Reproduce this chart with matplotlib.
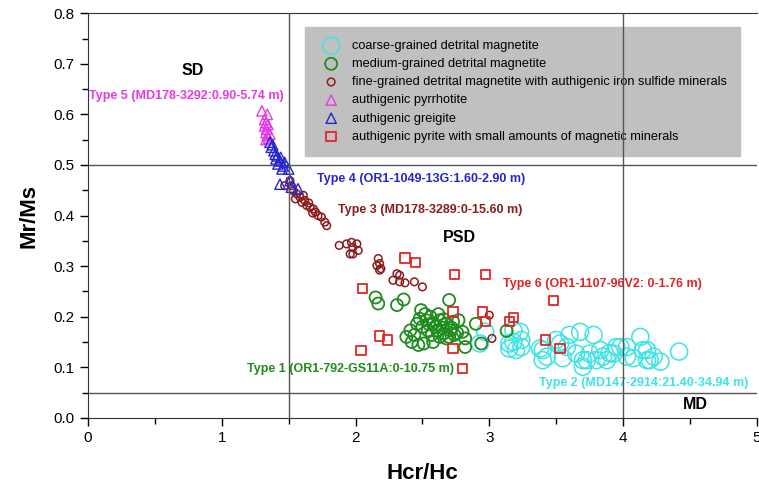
import numpy as np
import matplotlib
matplotlib.use("Agg")
import matplotlib.pyplot as plt

plt.rcParams['font.family'] = ['Liberation Sans', 'DejaVu Sans']

# coarse-grained detrital magnetite (Type 2)
coarse_x = [2.97, 2.93, 3.15, 3.18, 3.18, 3.23, 3.15, 3.20, 3.24, 3.24, 3.38, 3.40, 3.40, 3.43,
            3.50, 3.53, 3.55, 3.60, 3.68, 3.78, 3.65, 3.70, 3.70, 3.73, 3.75, 3.80, 3.83, 3.85,
            3.88, 3.93, 3.95, 3.98, 4.03, 4.03, 4.08, 4.13, 4.15, 4.18, 4.18, 4.20, 4.23, 4.28,
            4.42, 3.58, 3.90]
coarse_y = [0.170, 0.147, 0.147, 0.173, 0.150, 0.170, 0.137, 0.134, 0.140, 0.154, 0.137, 0.134,
            0.114, 0.121, 0.154, 0.147, 0.118, 0.164, 0.170, 0.164, 0.127, 0.114, 0.101, 0.114,
            0.127, 0.114, 0.134, 0.121, 0.114, 0.127, 0.140, 0.140, 0.121, 0.140, 0.118, 0.160,
            0.134, 0.134, 0.114, 0.114, 0.121, 0.111, 0.131, 0.140, 0.128]

# medium-grained detrital magnetite (Type 1)
medium_x = [2.15, 2.17, 2.31, 2.36, 2.70, 2.49, 2.48, 2.53, 2.58, 2.63, 2.68, 2.73, 2.77, 2.46,
            2.41, 2.38, 2.44, 2.47, 2.51, 2.54, 2.57, 2.61, 2.63, 2.66, 2.71, 2.68, 2.74, 2.80,
            2.82, 2.82, 2.90, 2.94, 3.13, 2.52, 2.56, 2.60, 2.65, 2.50, 2.70, 2.58, 2.42, 2.55,
            2.62, 2.66, 2.72, 2.76]
medium_y = [0.238, 0.226, 0.223, 0.234, 0.233, 0.213, 0.196, 0.193, 0.186, 0.193, 0.186, 0.190,
            0.193, 0.186, 0.173, 0.160, 0.164, 0.144, 0.147, 0.173, 0.164, 0.173, 0.160, 0.167,
            0.173, 0.157, 0.164, 0.170, 0.157, 0.140, 0.186, 0.147, 0.172, 0.205, 0.200, 0.180,
            0.178, 0.180, 0.160, 0.150, 0.150, 0.185, 0.205, 0.195, 0.178, 0.168]

# fine-grained detrital magnetite with authigenic iron sulfides (Type 3)
fine_x = [1.47, 1.51, 1.52, 1.535, 1.56, 1.55, 1.585, 1.60, 1.62, 1.635, 1.66, 1.685, 1.70, 1.72,
          1.745, 1.77, 1.785, 1.61, 1.65, 1.68, 1.878, 1.933, 1.97, 2.01, 1.98, 1.98, 2.02, 1.96,
          2.17, 2.18, 2.16, 2.19, 2.18, 2.31, 2.33, 2.28, 2.33, 2.37, 2.44, 2.50, 3.00, 3.02]
fine_y = [0.459, 0.469, 0.459, 0.449, 0.443, 0.433, 0.436, 0.426, 0.430, 0.420, 0.416, 0.413,
          0.407, 0.400, 0.397, 0.387, 0.380, 0.440, 0.425, 0.405, 0.341, 0.344, 0.347, 0.344,
          0.337, 0.324, 0.331, 0.324, 0.315, 0.305, 0.301, 0.295, 0.292, 0.285, 0.282, 0.272,
          0.269, 0.267, 0.269, 0.259, 0.203, 0.157]

# authigenic pyrrhotite (Type 5)
pyrr_x = [1.30, 1.34, 1.32, 1.33, 1.32, 1.335, 1.33, 1.34, 1.35, 1.36, 1.345, 1.33]
pyrr_y = [0.607, 0.600, 0.590, 0.584, 0.577, 0.571, 0.564, 0.558, 0.553, 0.561, 0.580, 0.550]

# authigenic greigite (Type 4)
greig_x = [1.36, 1.37, 1.39, 1.40, 1.415, 1.405, 1.435, 1.42, 1.46, 1.45, 1.50, 1.47, 1.435,
           1.51, 1.57, 1.52, 1.38, 1.44]
greig_y = [0.545, 0.535, 0.528, 0.521, 0.518, 0.512, 0.508, 0.502, 0.498, 0.492, 0.492, 0.505,
           0.462, 0.469, 0.453, 0.456, 0.540, 0.515]

# authigenic pyrite (Type 6)
pyrite_x = [2.05, 2.37, 2.45, 2.74, 2.97, 2.73, 2.95, 2.97, 3.15, 3.18, 2.18, 2.24, 2.04, 2.73,
            2.80, 3.42, 3.48, 3.53]
pyrite_y = [0.256, 0.316, 0.307, 0.283, 0.283, 0.209, 0.209, 0.190, 0.190, 0.198, 0.162, 0.154,
            0.133, 0.137, 0.098, 0.154, 0.232, 0.137]

labels = ["coarse-grained detrital magnetite",
          "medium-grained detrital magnetite",
          "fine-grained detrital magnetite with authigenic iron sulfide minerals",
          "authigenic pyrrhotite",
          "authigenic greigite",
          "authigenic pyrite with small amounts of magnetic minerals"]

c_cyan = "#3ee4e4"
c_green = "#1f8c1f"
c_brown = "#8c1c1c"
c_mag = "#e53be5"
c_blue = "#2525d0"
c_red = "#e42424"

fig = plt.figure(figsize=(7.59, 4.91), dpi=100)
ax = fig.add_axes([0.116, 0.149, 0.881, 0.824])

ax.scatter(coarse_x, coarse_y, s=150, marker='o', facecolors='none', edgecolors=c_cyan,
           linewidths=1.1, label=labels[0], zorder=3)
ax.scatter(medium_x, medium_y, s=75, marker='o', facecolors='none', edgecolors=c_green,
           linewidths=1.3, label=labels[1], zorder=3)
ax.scatter(fine_x, fine_y, s=30, marker='o', facecolors='none', edgecolors=c_brown,
           linewidths=1.1, label=labels[2], zorder=3)
ax.scatter(pyrr_x, pyrr_y, s=55, marker='^', facecolors='none', edgecolors=c_mag,
           linewidths=1.0, label=labels[3], zorder=3)
ax.scatter(greig_x, greig_y, s=55, marker='^', facecolors='none', edgecolors=c_blue,
           linewidths=1.0, label=labels[4], zorder=3)
ax.scatter(pyrite_x, pyrite_y, s=45, marker='s', facecolors='none', edgecolors=c_red,
           linewidths=1.3, label=labels[5], zorder=4)

# domain boundaries
for xv in [1.5, 4.0]:
    ax.axvline(xv, color='#555555', lw=1.0, zorder=6)
for yv in [0.5, 0.05]:
    ax.axhline(yv, color='#555555', lw=1.0, zorder=2)

ax.set_xlim(0, 5)
ax.set_ylim(0, 0.8)
ax.set_xticks(np.arange(0, 6, 1))
ax.set_xticks(np.arange(0.5, 5, 1), minor=True)
ax.set_yticks(np.arange(0, 0.81, 0.1))
ax.set_yticks(np.arange(0.05, 0.8, 0.1), minor=True)
ax.set_yticklabels([f"{v:.1f}" for v in np.arange(0, 0.81, 0.1)])
ax.tick_params(direction='out', which='major', length=6, width=1, labelsize=11)
ax.tick_params(direction='out', which='minor', length=4, width=1)
ax.spines['right'].set_visible(False)
for sp in ['left', 'bottom', 'top']:
    ax.spines[sp].set_color('#333333')

ax.set_xlabel("Hcr/Hc", fontsize=16, fontweight='bold', labelpad=13)
ax.set_ylabel("Mr/Ms", fontsize=16, fontweight='bold', labelpad=10)

# region labels
ax.text(0.78, 0.686, "SD", fontsize=11.5, fontweight='bold', ha='center', va='center')
ax.text(2.78, 0.356, "PSD", fontsize=11.5, fontweight='bold', ha='center', va='center')
ax.text(4.54, 0.026, "MD", fontsize=11.5, fontweight='bold', ha='center', va='center')

# type labels
tfs = 9
ax.text(0.736, 0.636, "Type 5 (MD178-3292:0.90-5.74 m)", color=c_mag, fontsize=tfs,
        fontweight='bold', ha='center', va='center')
ax.text(1.71, 0.473, "Type 4 (OR1-1049-13G:1.60-2.90 m)", color=c_blue, fontsize=tfs,
        fontweight='bold', ha='left', va='center')
ax.text(1.87, 0.411, "Type 3 (MD178-3289:0-15.60 m)", color=c_brown, fontsize=tfs,
        fontweight='bold', ha='left', va='center')
ax.text(3.10, 0.265, "Type 6 (OR1-1107-96V2: 0-1.76 m)", color=c_red, fontsize=tfs,
        fontweight='bold', ha='left', va='center')
ax.text(3.37, 0.068, "Type 2 (MD147-2914:21.40-34.94 m)", color=c_cyan, fontsize=tfs,
        fontweight='bold', ha='left', va='center')
ax.text(2.74, 0.096, "Type 1 (OR1-792-GS11A:0-10.75 m)", color=c_green, fontsize=tfs,
        fontweight='bold', ha='right', va='center')

leg = ax.legend(loc='upper left', bbox_to_anchor=(0.3244, 0.967), borderaxespad=0,
                fontsize=9.2, frameon=True, fancybox=False, facecolor='#c0c0c0',
                edgecolor='#c0c0c0', framealpha=1, borderpad=1.05, handlelength=2.0,
                handletextpad=0.6, labelspacing=0.48, scatterpoints=1)
leg.set_zorder(5)

fig.savefig("out.png", dpi=100)
